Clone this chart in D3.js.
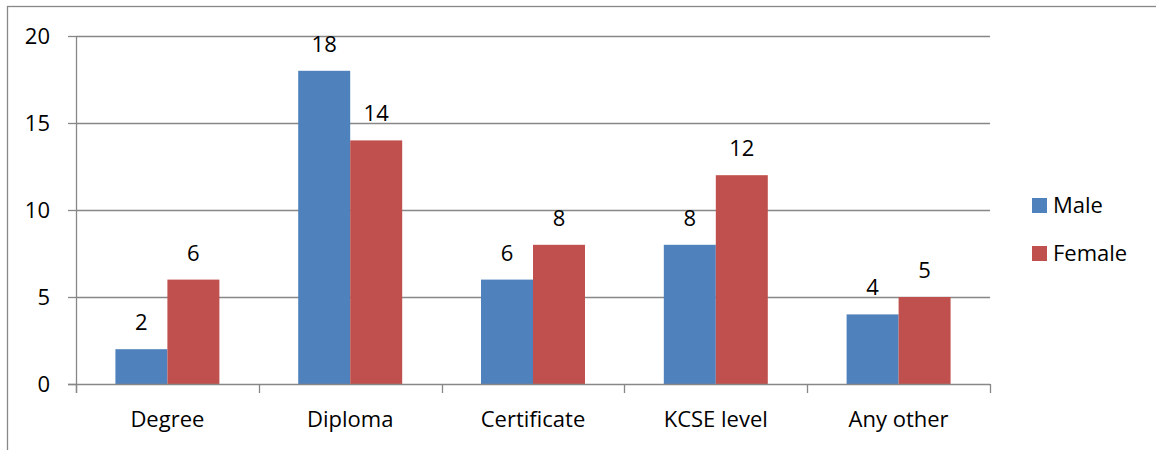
<!DOCTYPE html>
<html>
<head>
<meta charset="utf-8">
<script src="https://cdn.jsdelivr.net/npm/d3@7"></script>
<style>
  html, body { margin: 0; padding: 0; background: #fff; }
  svg { display: block; }
  text { font-family: "Open Sans", "Noto Sans", sans-serif; fill: #000; }
</style>
</head>
<body>
<svg id="chart" width="1156" height="450"></svg>
<script>
// Qualification level by gender
const categories = ["Degree", "Diploma", "Certificate", "KCSE level", "Any other"];
const seriesNames = ["Male", "Female"];
const maleValues = [2, 18, 6, 8, 4];
const femaleValues = [6, 14, 8, 12, 5];
const yTicks = [0, 5, 10, 15, 20];
const colors = ["#4F81BD", "#C0504D"];

const seriesValues = [maleValues, femaleValues];
const rows = categories.map((c, i) => ({
  category: c,
  values: seriesNames.map((s, j) => ({ series: s, value: seriesValues[j][i], idx: j }))
}));

const svg = d3.select("#chart");
const W = 1156, H = 450;
const plot = { left: 76, right: 990, top: 36, bottom: 384 };
const axisColor = "#878787";
const fontSize = 22;

// outer frame
svg.append("rect")
  .attr("x", 7.5).attr("y", 6.5)
  .attr("width", W + 10).attr("height", H + 10)
  .attr("fill", "none").attr("stroke", axisColor).attr("stroke-width", 1.3);

const x0 = d3.scaleBand().domain(categories).range([plot.left, plot.right]).padding(0);
const x1 = d3.scaleBand().domain(seriesNames).range([0, x0.bandwidth()])
  .paddingInner(0).paddingOuter(0.758);
const y = d3.scaleLinear().domain([0, 20]).range([plot.bottom, plot.top]);

// horizontal gridlines with left tick marks
const yAxis = d3.axisLeft(y).tickValues(yTicks).tickSize(8).tickPadding(18);
const gy = svg.append("g").attr("transform", `translate(${plot.left},0)`).call(yAxis);
gy.select(".domain").remove();
gy.selectAll(".tick line").attr("stroke", axisColor).attr("stroke-width", 1.3);
gy.selectAll(".tick text")
  .style("font-size", fontSize + "px")
  .style("font-family", "'Open Sans', 'Noto Sans', sans-serif")
  .attr("fill", "#000");

svg.append("g").selectAll("line.grid")
  .data(yTicks.filter(t => t > 0))
  .join("line")
  .attr("x1", plot.left).attr("x2", plot.right)
  .attr("y1", d => Math.round(y(d)) + 0.5).attr("y2", d => Math.round(y(d)) + 0.5)
  .attr("stroke", axisColor).attr("stroke-width", 1.3);

// bars
const groups = svg.append("g").selectAll("g")
  .data(rows)
  .join("g")
  .attr("transform", d => `translate(${x0(d.category)},0)`);

groups.selectAll("rect")
  .data(d => d.values)
  .join("rect")
  .attr("x", d => x1(d.series))
  .attr("width", x1.bandwidth())
  .attr("y", d => y(d.value))
  .attr("height", d => y(0) - y(d.value))
  .attr("fill", d => colors[d.idx]);

// value labels
groups.selectAll("text.val")
  .data(d => d.values)
  .join("text")
  .attr("class", "val")
  .attr("x", d => x1(d.series) + x1.bandwidth() / 2)
  .attr("y", d => y(d.value) - 19)
  .attr("text-anchor", "middle")
  .style("font-size", fontSize + "px")
  .text(d => d.value);

// vertical axis line
svg.append("line")
  .attr("x1", plot.left + 0.5).attr("x2", plot.left + 0.5)
  .attr("y1", plot.top).attr("y2", plot.bottom + 9)
  .attr("stroke", axisColor).attr("stroke-width", 1.3);

// category axis with boundary ticks
svg.append("line")
  .attr("x1", plot.left - 8).attr("x2", plot.right)
  .attr("y1", plot.bottom + 0.5).attr("y2", plot.bottom + 0.5)
  .attr("stroke", axisColor).attr("stroke-width", 1.3);

const boundaries = categories.map(c => x0(c)).concat([x0(categories[categories.length - 1]) + x0.bandwidth()]);
svg.append("g").selectAll("line")
  .data(boundaries)
  .join("line")
  .attr("x1", d => Math.round(d) + 0.5).attr("x2", d => Math.round(d) + 0.5)
  .attr("y1", plot.bottom).attr("y2", plot.bottom + 9)
  .attr("stroke", axisColor).attr("stroke-width", 1.3);

svg.append("g").selectAll("text")
  .data(categories)
  .join("text")
  .attr("x", d => x0(d) + x0.bandwidth() / 2)
  .attr("y", 427)
  .attr("text-anchor", "middle")
  .style("font-size", fontSize + "px")
  .text(d => d);

// legend
const legend = svg.append("g").attr("transform", "translate(1032,198)");
const items = legend.selectAll("g")
  .data(seriesNames)
  .join("g")
  .attr("transform", (d, i) => `translate(0,${i * 48})`);
items.append("rect")
  .attr("width", 15).attr("height", 15)
  .attr("fill", (d, i) => colors[i]);
items.append("text")
  .attr("x", 21).attr("y", 15)
  .style("font-size", fontSize + "px")
  .text(d => d);
</script>
</body>
</html>
